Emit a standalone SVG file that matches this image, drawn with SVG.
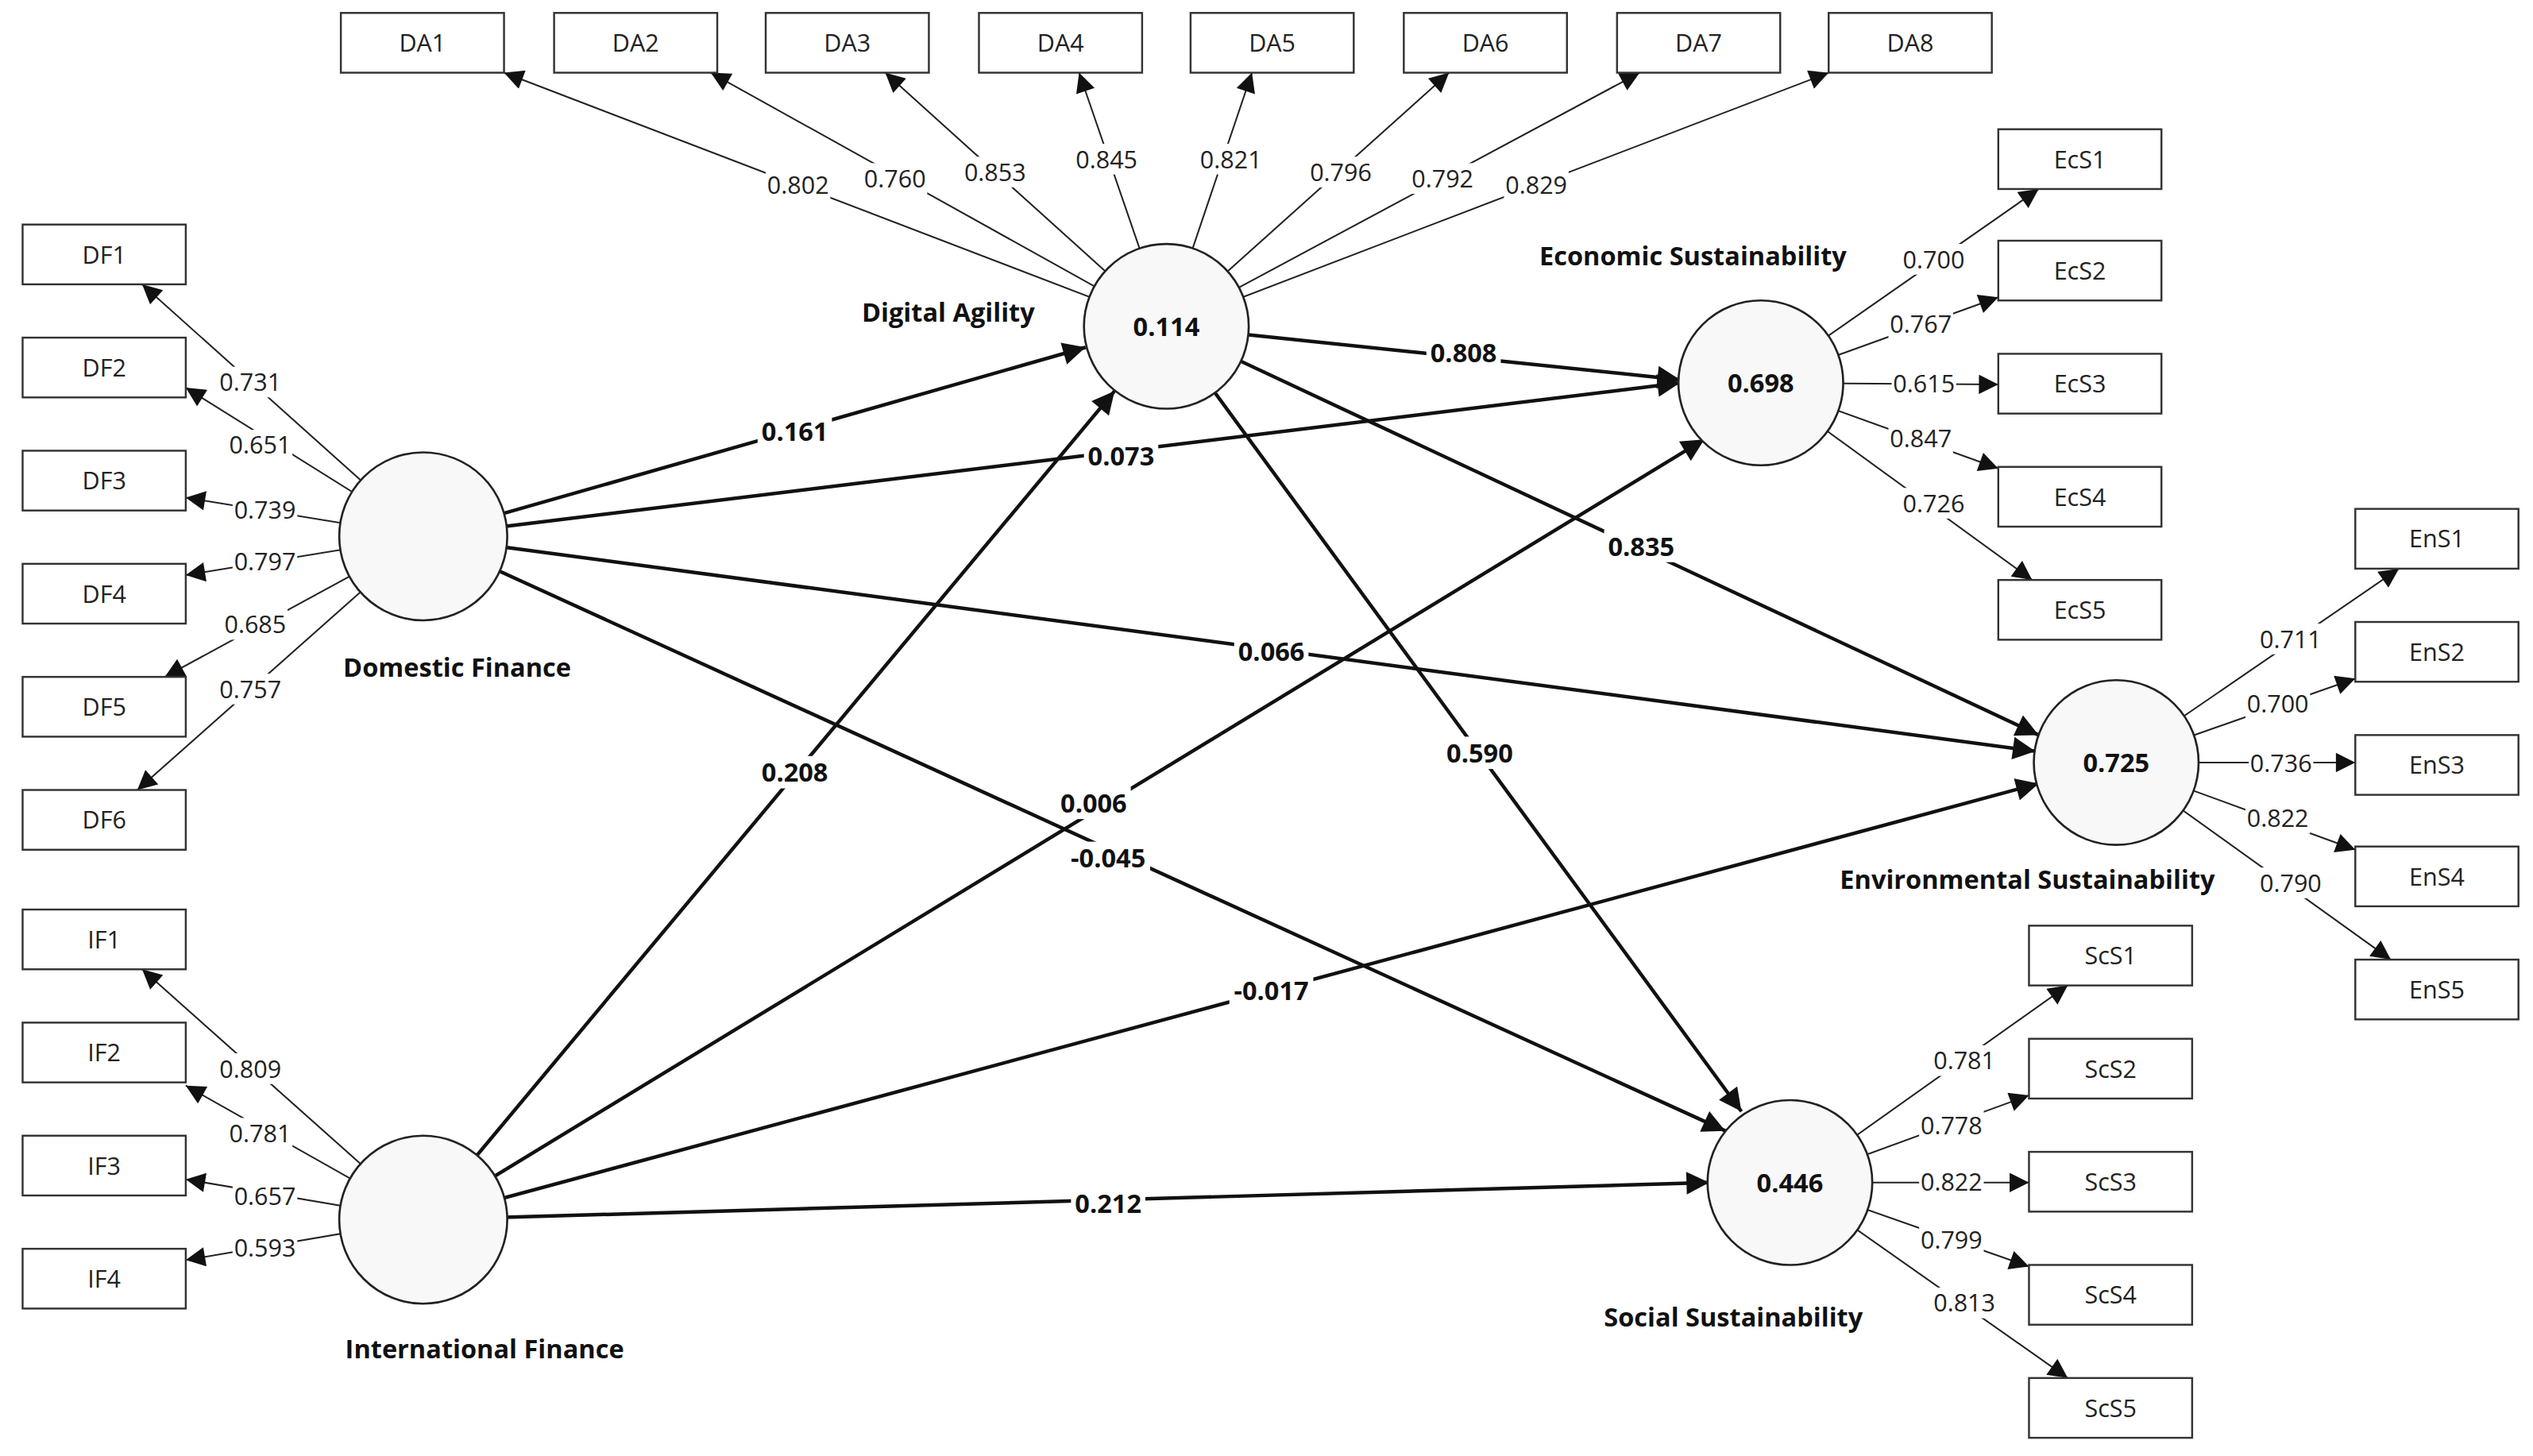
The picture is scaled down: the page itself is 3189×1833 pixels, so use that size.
<svg xmlns="http://www.w3.org/2000/svg" width="3189" height="1833" viewBox="0 0 3189 1833">
<style>
.b{fill:#fff;stroke:#333;stroke-width:1.2}
.bt{font-family:"Open Sans","Noto Sans",sans-serif;font-size:15px;fill:#222;text-anchor:middle}
.c{fill:#f8f8f8;stroke:#222;stroke-width:1.3}
.ct{font-family:"Open Sans","Noto Sans",sans-serif;font-size:16px;font-weight:bold;fill:#111;text-anchor:middle}
.nl{font-family:"Open Sans","Noto Sans",sans-serif;font-size:16px;font-weight:bold;fill:#111;text-anchor:middle}
.l{stroke:#222;stroke-width:1;marker-end:url(#a)}
.p{stroke:#111;stroke-width:2.2;marker-end:url(#A)}
.lt{font-family:"Open Sans","Noto Sans",sans-serif;font-size:15px;fill:#222;text-anchor:middle}
.pt{font-family:"Open Sans","Noto Sans",sans-serif;font-size:16px;font-weight:bold;fill:#111;text-anchor:middle}
.bg{fill:#fff}
</style>
<defs>
<marker id="a" viewBox="0 0 10 10" refX="10" refY="5" markerWidth="14" markerHeight="12" markerUnits="userSpaceOnUse" orient="auto"><path d="M0,0L10,5L0,10z" fill="#111"/></marker>
<marker id="A" viewBox="0 0 10 10" refX="10" refY="5" markerWidth="18" markerHeight="14" markerUnits="userSpaceOnUse" orient="auto"><path d="M0,0L10,5L0,10z" fill="#111"/></marker>
</defs>
<rect width="3189" height="1833" fill="#fff"/>
<g transform="scale(2.0338)">
<g id="connectors">
<line class="l" x1="722" y1="202" x2="312" y2="45"/>
<line class="l" x1="722" y1="202" x2="440" y2="45"/>
<line class="l" x1="722" y1="202" x2="548" y2="45"/>
<line class="l" x1="722" y1="202" x2="668" y2="45"/>
<line class="l" x1="722" y1="202" x2="775" y2="45"/>
<line class="l" x1="722" y1="202" x2="897" y2="45"/>
<line class="l" x1="722" y1="202" x2="1015" y2="45"/>
<line class="l" x1="722" y1="202" x2="1132" y2="45"/>
<line class="l" x1="262" y1="332" x2="88" y2="176"/>
<line class="l" x1="262" y1="332" x2="115" y2="240"/>
<line class="l" x1="262" y1="332" x2="115" y2="308"/>
<line class="l" x1="262" y1="332" x2="115" y2="356"/>
<line class="l" x1="262" y1="332" x2="102" y2="419"/>
<line class="l" x1="262" y1="332" x2="85" y2="489"/>
<line class="l" x1="262" y1="755" x2="88" y2="600"/>
<line class="l" x1="262" y1="755" x2="115" y2="672"/>
<line class="l" x1="262" y1="755" x2="115" y2="730"/>
<line class="l" x1="262" y1="755" x2="115" y2="780"/>
<line class="l" x1="1090" y1="237" x2="1262" y2="117"/>
<line class="l" x1="1090" y1="237" x2="1237" y2="184"/>
<line class="l" x1="1090" y1="237" x2="1237" y2="238"/>
<line class="l" x1="1090" y1="237" x2="1237" y2="290"/>
<line class="l" x1="1090" y1="237" x2="1258" y2="359"/>
<line class="l" x1="1310" y1="472" x2="1485" y2="352"/>
<line class="l" x1="1310" y1="472" x2="1458" y2="420"/>
<line class="l" x1="1310" y1="472" x2="1458" y2="472"/>
<line class="l" x1="1310" y1="472" x2="1458" y2="526"/>
<line class="l" x1="1310" y1="472" x2="1480" y2="594"/>
<line class="l" x1="1108" y1="732" x2="1280" y2="610"/>
<line class="l" x1="1108" y1="732" x2="1256" y2="678"/>
<line class="l" x1="1108" y1="732" x2="1256" y2="732"/>
<line class="l" x1="1108" y1="732" x2="1256" y2="784"/>
<line class="l" x1="1108" y1="732" x2="1280" y2="853"/>
<line class="p" x1="262" y1="332" x2="672" y2="215"/>
<line class="p" x1="262" y1="332" x2="1040" y2="237"/>
<line class="p" x1="262" y1="332" x2="1260" y2="465"/>
<line class="p" x1="262" y1="332" x2="1068" y2="700"/>
<line class="p" x1="262" y1="755" x2="690" y2="242"/>
<line class="p" x1="262" y1="755" x2="1055" y2="272"/>
<line class="p" x1="262" y1="755" x2="1262" y2="485"/>
<line class="p" x1="262" y1="755" x2="1058" y2="732"/>
<line class="p" x1="722" y1="202" x2="1040" y2="235"/>
<line class="p" x1="722" y1="202" x2="1262" y2="455"/>
<line class="p" x1="722" y1="202" x2="1078" y2="688"/>
<g id="loadings">
<rect class="bg" x="474" y="105" width="40" height="19"/><text class="lt" x="494" y="120">0.802</text>
<rect class="bg" x="534" y="101" width="40" height="19"/><text class="lt" x="554" y="116">0.760</text>
<rect class="bg" x="596" y="97" width="40" height="19"/><text class="lt" x="616" y="112">0.853</text>
<rect class="bg" x="665" y="89" width="40" height="19"/><text class="lt" x="685" y="104">0.845</text>
<rect class="bg" x="742" y="89" width="40" height="19"/><text class="lt" x="762" y="104">0.821</text>
<rect class="bg" x="810" y="97" width="40" height="19"/><text class="lt" x="830" y="112">0.796</text>
<rect class="bg" x="873" y="101" width="40" height="19"/><text class="lt" x="893" y="116">0.792</text>
<rect class="bg" x="931" y="105" width="40" height="19"/><text class="lt" x="951" y="120">0.829</text>
<rect class="bg" x="135" y="227" width="40" height="19"/><text class="lt" x="155" y="242">0.731</text>
<rect class="bg" x="141" y="266" width="40" height="19"/><text class="lt" x="161" y="281">0.651</text>
<rect class="bg" x="144" y="306" width="40" height="19"/><text class="lt" x="164" y="321">0.739</text>
<rect class="bg" x="144" y="338" width="40" height="19"/><text class="lt" x="164" y="353">0.797</text>
<rect class="bg" x="138" y="377" width="40" height="19"/><text class="lt" x="158" y="392">0.685</text>
<rect class="bg" x="135" y="417" width="40" height="19"/><text class="lt" x="155" y="432">0.757</text>
<rect class="bg" x="135" y="652" width="40" height="19"/><text class="lt" x="155" y="667">0.809</text>
<rect class="bg" x="141" y="692" width="40" height="19"/><text class="lt" x="161" y="707">0.781</text>
<rect class="bg" x="144" y="731" width="40" height="19"/><text class="lt" x="164" y="746">0.657</text>
<rect class="bg" x="144" y="763" width="40" height="19"/><text class="lt" x="164" y="778">0.593</text>
<rect class="bg" x="1177" y="151" width="40" height="19"/><text class="lt" x="1197" y="166">0.700</text>
<rect class="bg" x="1169" y="191" width="40" height="19"/><text class="lt" x="1189" y="206">0.767</text>
<rect class="bg" x="1171" y="228" width="40" height="19"/><text class="lt" x="1191" y="243">0.615</text>
<rect class="bg" x="1169" y="262" width="40" height="19"/><text class="lt" x="1189" y="277">0.847</text>
<rect class="bg" x="1177" y="302" width="40" height="19"/><text class="lt" x="1197" y="317">0.726</text>
<rect class="bg" x="1398" y="386" width="40" height="19"/><text class="lt" x="1418" y="401">0.711</text>
<rect class="bg" x="1390" y="426" width="40" height="19"/><text class="lt" x="1410" y="441">0.700</text>
<rect class="bg" x="1392" y="463" width="40" height="19"/><text class="lt" x="1412" y="478">0.736</text>
<rect class="bg" x="1390" y="497" width="40" height="19"/><text class="lt" x="1410" y="512">0.822</text>
<rect class="bg" x="1398" y="537" width="40" height="19"/><text class="lt" x="1418" y="552">0.790</text>
<rect class="bg" x="1196" y="647" width="40" height="19"/><text class="lt" x="1216" y="662">0.781</text>
<rect class="bg" x="1188" y="687" width="40" height="19"/><text class="lt" x="1208" y="702">0.778</text>
<rect class="bg" x="1188" y="722" width="40" height="19"/><text class="lt" x="1208" y="737">0.822</text>
<rect class="bg" x="1188" y="758" width="40" height="19"/><text class="lt" x="1208" y="773">0.799</text>
<rect class="bg" x="1196" y="797" width="40" height="19"/><text class="lt" x="1216" y="812">0.813</text>
</g>
<g id="paths">
<rect class="bg" x="469" y="257" width="46" height="20"/><text class="pt" x="492" y="273">0.161</text>
<rect class="bg" x="671" y="272" width="46" height="20"/><text class="pt" x="694" y="288">0.073</text>
<rect class="bg" x="764" y="393" width="46" height="20"/><text class="pt" x="787" y="409">0.066</text>
<rect class="bg" x="660" y="521" width="52" height="20"/><text class="pt" x="686" y="537">-0.045</text>
<rect class="bg" x="469" y="468" width="46" height="20"/><text class="pt" x="492" y="484">0.208</text>
<rect class="bg" x="654" y="487" width="46" height="20"/><text class="pt" x="677" y="503">0.006</text>
<rect class="bg" x="761" y="603" width="52" height="20"/><text class="pt" x="787" y="619">-0.017</text>
<rect class="bg" x="663" y="735" width="46" height="20"/><text class="pt" x="686" y="751">0.212</text>
<rect class="bg" x="883" y="208" width="46" height="20"/><text class="pt" x="906" y="224">0.808</text>
<rect class="bg" x="993" y="328" width="46" height="20"/><text class="pt" x="1016" y="344">0.835</text>
<rect class="bg" x="893" y="456" width="46" height="20"/><text class="pt" x="916" y="472">0.590</text>
</g>
</g>
<g id="DA1"><rect class="b" x="211" y="8" width="101" height="37"/><text class="bt" x="261.5" y="32">DA1</text></g>
<g id="DA2"><rect class="b" x="343" y="8" width="101" height="37"/><text class="bt" x="393.5" y="32">DA2</text></g>
<g id="DA3"><rect class="b" x="474" y="8" width="101" height="37"/><text class="bt" x="524.5" y="32">DA3</text></g>
<g id="DA4"><rect class="b" x="606" y="8" width="101" height="37"/><text class="bt" x="656.5" y="32">DA4</text></g>
<g id="DA5"><rect class="b" x="737" y="8" width="101" height="37"/><text class="bt" x="787.5" y="32">DA5</text></g>
<g id="DA6"><rect class="b" x="869" y="8" width="101" height="37"/><text class="bt" x="919.5" y="32">DA6</text></g>
<g id="DA7"><rect class="b" x="1001" y="8" width="101" height="37"/><text class="bt" x="1051.5" y="32">DA7</text></g>
<g id="DA8"><rect class="b" x="1132" y="8" width="101" height="37"/><text class="bt" x="1182.5" y="32">DA8</text></g>
<g id="DF1"><rect class="b" x="14" y="139" width="101" height="37"/><text class="bt" x="64.5" y="163">DF1</text></g>
<g id="DF2"><rect class="b" x="14" y="209" width="101" height="37"/><text class="bt" x="64.5" y="233">DF2</text></g>
<g id="DF3"><rect class="b" x="14" y="279" width="101" height="37"/><text class="bt" x="64.5" y="303">DF3</text></g>
<g id="DF4"><rect class="b" x="14" y="349" width="101" height="37"/><text class="bt" x="64.5" y="373">DF4</text></g>
<g id="DF5"><rect class="b" x="14" y="419" width="101" height="37"/><text class="bt" x="64.5" y="443">DF5</text></g>
<g id="DF6"><rect class="b" x="14" y="489" width="101" height="37"/><text class="bt" x="64.5" y="513">DF6</text></g>
<g id="IF1"><rect class="b" x="14" y="563" width="101" height="37"/><text class="bt" x="64.5" y="587">IF1</text></g>
<g id="IF2"><rect class="b" x="14" y="633" width="101" height="37"/><text class="bt" x="64.5" y="657">IF2</text></g>
<g id="IF3"><rect class="b" x="14" y="703" width="101" height="37"/><text class="bt" x="64.5" y="727">IF3</text></g>
<g id="IF4"><rect class="b" x="14" y="773" width="101" height="37"/><text class="bt" x="64.5" y="797">IF4</text></g>
<g id="EcS1"><rect class="b" x="1237" y="80" width="101" height="37"/><text class="bt" x="1287.5" y="104">EcS1</text></g>
<g id="EcS2"><rect class="b" x="1237" y="149" width="101" height="37"/><text class="bt" x="1287.5" y="173">EcS2</text></g>
<g id="EcS3"><rect class="b" x="1237" y="219" width="101" height="37"/><text class="bt" x="1287.5" y="243">EcS3</text></g>
<g id="EcS4"><rect class="b" x="1237" y="289" width="101" height="37"/><text class="bt" x="1287.5" y="313">EcS4</text></g>
<g id="EcS5"><rect class="b" x="1237" y="359" width="101" height="37"/><text class="bt" x="1287.5" y="383">EcS5</text></g>
<g id="EnS1"><rect class="b" x="1458" y="315" width="101" height="37"/><text class="bt" x="1508.5" y="339">EnS1</text></g>
<g id="EnS2"><rect class="b" x="1458" y="385" width="101" height="37"/><text class="bt" x="1508.5" y="409">EnS2</text></g>
<g id="EnS3"><rect class="b" x="1458" y="455" width="101" height="37"/><text class="bt" x="1508.5" y="479">EnS3</text></g>
<g id="EnS4"><rect class="b" x="1458" y="524" width="101" height="37"/><text class="bt" x="1508.5" y="548">EnS4</text></g>
<g id="EnS5"><rect class="b" x="1458" y="594" width="101" height="37"/><text class="bt" x="1508.5" y="618">EnS5</text></g>
<g id="ScS1"><rect class="b" x="1256" y="573" width="101" height="37"/><text class="bt" x="1306.5" y="597">ScS1</text></g>
<g id="ScS2"><rect class="b" x="1256" y="643" width="101" height="37"/><text class="bt" x="1306.5" y="667">ScS2</text></g>
<g id="ScS3"><rect class="b" x="1256" y="713" width="101" height="37"/><text class="bt" x="1306.5" y="737">ScS3</text></g>
<g id="ScS4"><rect class="b" x="1256" y="783" width="101" height="37"/><text class="bt" x="1306.5" y="807">ScS4</text></g>
<g id="ScS5"><rect class="b" x="1256" y="853" width="101" height="37"/><text class="bt" x="1306.5" y="877">ScS5</text></g>
<g id="DigitalAgility"><circle class="c" cx="722" cy="202" r="51"/><text class="ct" x="722" y="208">0.114</text><text class="nl" x="587" y="199">Digital Agility</text></g>
<g id="DomesticFinance"><circle class="c" cx="262" cy="332" r="52"/><text class="nl" x="283" y="419">Domestic Finance</text></g>
<g id="InternationalFinance"><circle class="c" cx="262" cy="755" r="52"/><text class="nl" x="300" y="841">International Finance</text></g>
<g id="EconomicSustainability"><circle class="c" cx="1090" cy="237" r="51"/><text class="ct" x="1090" y="243">0.698</text><text class="nl" x="1048" y="164">Economic Sustainability</text></g>
<g id="EnvironmentalSustainability"><circle class="c" cx="1310" cy="472" r="51"/><text class="ct" x="1310" y="478">0.725</text><text class="nl" x="1255" y="550">Environmental Sustainability</text></g>
<g id="SocialSustainability"><circle class="c" cx="1108" cy="732" r="51"/><text class="ct" x="1108" y="738">0.446</text><text class="nl" x="1073" y="821">Social Sustainability</text></g>
</g>
</svg>
